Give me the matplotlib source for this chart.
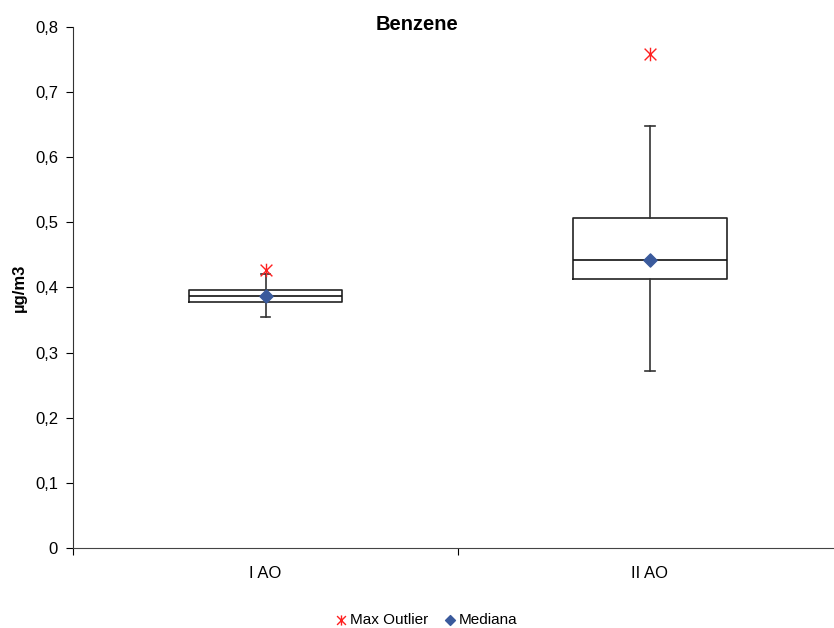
import matplotlib
matplotlib.use("Agg")
import matplotlib.pyplot as plt
from matplotlib.ticker import FuncFormatter
from matplotlib.path import Path

plt.rcParams['font.family'] = ['Liberation Sans', 'DejaVu Sans']

categories = ["I AO", "II AO"]
whisker_low = [0.354, 0.272]
q1 = [0.378, 0.4135]
median = [0.387, 0.442]
q3 = [0.396, 0.507]
whisker_high = [0.421, 0.648]
max_outlier = [0.427, 0.759]

fig = plt.figure(figsize=(8.34, 6.28), dpi=100)
ax = fig.add_axes([0.0879, 0.1274, 0.9218, 0.8296])

positions = [0.5, 1.5]
stats = []
for i, c in enumerate(categories):
    stats.append(dict(label=c, whislo=whisker_low[i], q1=q1[i], med=median[i],
                      q3=q3[i], whishi=whisker_high[i], fliers=[]))
ax.bxp(stats, positions=positions, widths=0.40, showfliers=False,
       boxprops=dict(color='#222222', linewidth=1.2),
       whiskerprops=dict(color='#333333', linewidth=1.2),
       capprops=dict(color='#333333', linewidth=1.2),
       medianprops=dict(color='#111111', linewidth=1.2),
       capwidths=0.024, manage_ticks=False)

# Excel-style star marker: X plus vertical bar
star = Path([(-1, -1), (1, 1), (-1, 1), (1, -1), (0, -1.15), (0, 1.15)],
            [Path.MOVETO, Path.LINETO, Path.MOVETO, Path.LINETO, Path.MOVETO, Path.LINETO])
ax.scatter(positions, max_outlier, marker=star, s=95, color='#FF2020',
           linewidths=1.0, zorder=5, label='Max Outlier')
ax.scatter(positions, median, marker='D', s=45, color='#3A5A9C',
           zorder=5, label='Mediana')

ax.set_xlim(0, 2)
ax.set_ylim(0, 0.8)
ax.set_yticks([i / 10 for i in range(9)])
ax.yaxis.set_major_formatter(FuncFormatter(
    lambda v, p: "0" if abs(v) < 1e-9 else f"{v:.1f}".replace('.', ',')))
ax.set_xticks([0, 1])
ax.set_xticklabels([])
ax.set_xticks(positions, minor=True)
ax.set_xticklabels(categories, minor=True)
ax.tick_params(axis='x', which='minor', length=0, pad=13, labelsize=12)
ax.tick_params(axis='x', which='major', length=5, direction='out')
ax.tick_params(axis='y', length=5, direction='out', labelsize=12, pad=6)

for s in ['top', 'right']:
    ax.spines[s].set_visible(False)
ax.spines['left'].set_color('#333333')
ax.spines['bottom'].set_color('#444444')

ax.set_ylabel("µg/m3", fontsize=12, fontweight='bold', labelpad=6)
fig.text(0.5, 0.961, "Benzene", ha='center', va='center', fontsize=14.5, fontweight='bold')

fig.legend(loc='center', bbox_to_anchor=(0.509, 0.012), ncol=2, frameon=False,
           fontsize=11, handletextpad=0.0, columnspacing=0.8, borderaxespad=0,
           handlelength=1.2, markerscale=0.75)

fig.savefig("out.png", dpi=100)
